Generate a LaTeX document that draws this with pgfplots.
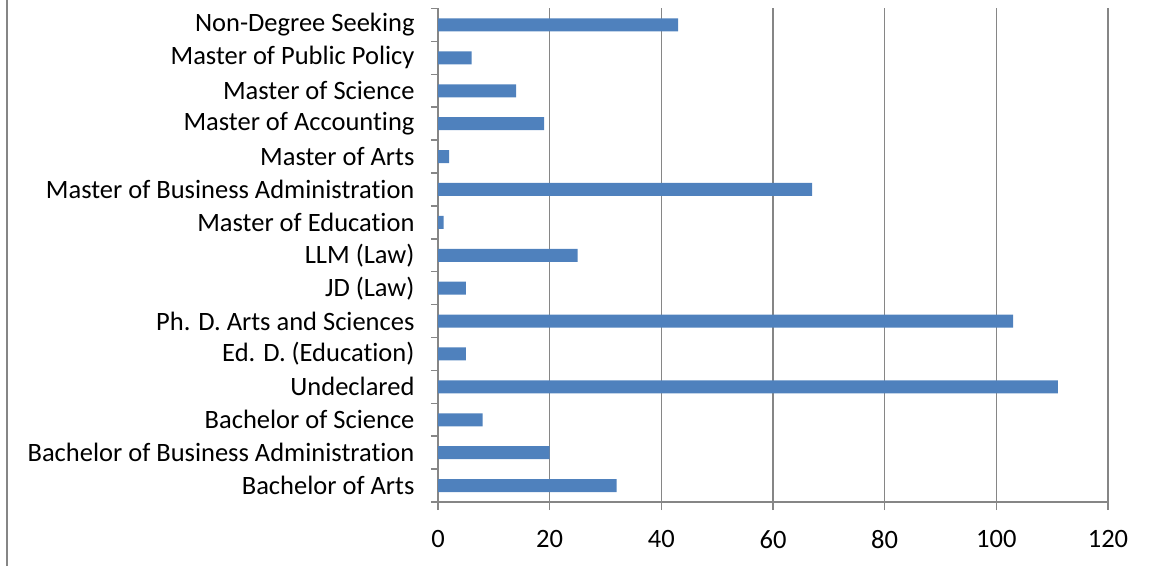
\documentclass[border=0pt]{standalone}
\usepackage{fontspec}
\setmainfont[Ligatures=NoCommon]{Carlito}
\usepackage{pgfplots}
\pgfplotsset{compat=1.18}
\definecolor{barblue}{HTML}{4F81BD}
\definecolor{axgray}{HTML}{868686}
\begin{document}
\begin{tikzpicture}[x=1pt,y=1pt]
\useasboundingbox (0,0) rectangle (1156,566);
\draw[axgray, line width=2pt] (7,0) -- (7,566);
\begin{axis}[
  at={(438pt,64pt)}, anchor=south west,
  scale only axis, width=670pt, height=493.5pt,
  xbar, bar width=13pt,
  xmin=0, xmax=120, ymin=-0.5, ymax=14.5,
  axis x line*=bottom, axis y line*=left,
  axis line style={axgray, line width=1.5pt, -},
  xtick={0,20,...,120},
  ytick={0,...,14},
  yticklabels={Bachelor of Arts, Bachelor of Business Administration, Bachelor of Science, Undeclared, Ed. D. (Education), Ph. D. Arts and Sciences, JD (Law), LLM (Law), Master of Education, Master of Business Administration, Master of Arts, Master of Accounting, Master of Science, Master of Public Policy, Non-Degree Seeking},
  minor ytick={-0.5,0.5,...,14.5},
  major y tick style={draw=none},
  minor y tick style={axgray, line width=1.5pt},
  minor tick length=7pt,
  major tick length=8pt,
  x tick style={axgray, line width=1.5pt},
  tick align=outside,
  xmajorgrids,
  grid style={axgray, line width=1.5pt},
  ticklabel style={font=\fontsize{26.5}{30}\selectfont, text=black},
  /pgf/number format/assume math mode=true,
  yticklabel style={xshift=-12pt},
  xticklabel style={yshift=-17pt},
]
\addplot[fill=barblue, draw=none] coordinates {
 (32,0) (20,1) (8,2) (111,3) (5,4) (103,5) (5,6) (25,7) (1,8) (67,9) (2,10) (19,11) (14,12) (6,13) (43,14)};
\end{axis}
\end{tikzpicture}
\end{document}
